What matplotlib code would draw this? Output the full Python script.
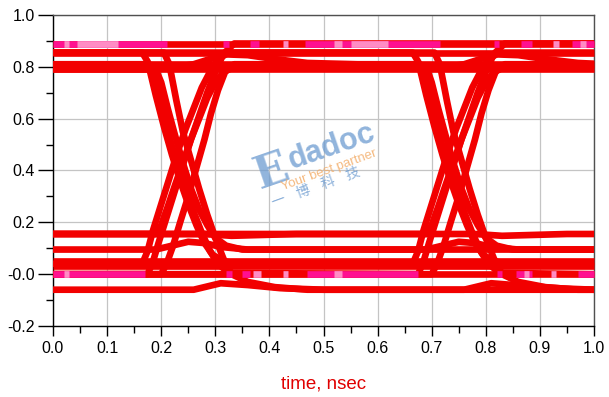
import matplotlib
matplotlib.use("Agg")
import matplotlib.pyplot as plt
from matplotlib.ticker import MultipleLocator

# ---- axis ticks / labels ----
x_ticks = [0.0, 0.1, 0.2, 0.3, 0.4, 0.5, 0.6, 0.7, 0.8, 0.9, 1.0]
x_labels = ["0.0", "0.1", "0.2", "0.3", "0.4", "0.5", "0.6", "0.7", "0.8", "0.9", "1.0"]
y_ticks = [-0.2, 0.0, 0.2, 0.4, 0.6, 0.8, 1.0]
y_labels = ["-0.2", "-0.0", "0.2", "0.4", "0.6", "0.8", "1.0"]
x_label = "time, nsec"

# ---- steady-level traces ----
flat_089_x, flat_089_y = [0.0, 1.0], [0.89, 0.89]
flat_0855_x, flat_0855_y = [0.0, 1.0], [0.855, 0.855]
flat_081_x, flat_081_y = [0.0, 1.0], [0.81, 0.81]
flat_079_x, flat_079_y = [0.0, 1.0], [0.79, 0.79]
bump_hi_x = [0.0, 0.23, 0.26, 0.29, 0.32, 0.36, 0.41, 0.47, 0.73, 0.76, 0.79, 0.82, 0.86, 0.91, 0.97, 1.0]
bump_hi_y = [0.80, 0.80, 0.81, 0.83, 0.848, 0.845, 0.83, 0.815, 0.80, 0.81, 0.83, 0.848, 0.845, 0.83, 0.815, 0.812]
flat_0155_x = [0.0, 0.28, 0.33, 0.45, 0.78, 0.83, 0.95, 1.0]
flat_0155_y = [0.155, 0.155, 0.148, 0.155, 0.155, 0.148, 0.155, 0.155]
hump_0095_x = [0.0, 0.19, 0.22, 0.25, 0.28, 0.31, 0.36, 0.69, 0.72, 0.75, 0.78, 0.81, 0.86, 1.0]
hump_0095_y = [0.095, 0.095, 0.11, 0.125, 0.12, 0.105, 0.095, 0.095, 0.11, 0.125, 0.12, 0.105, 0.095, 0.095]
flat_005_x, flat_005_y = [0.0, 1.0], [0.05, 0.05]
flat_003_x, flat_003_y = [0.0, 1.0], [0.03, 0.03]
flat_000_x, flat_000_y = [0.0, 1.0], [0.0, 0.0]
bump_lo_x = [0.0, 0.26, 0.29, 0.31, 0.36, 0.42, 0.5, 0.76, 0.79, 0.81, 0.87, 0.94, 1.0]
bump_lo_y = [-0.06, -0.06, -0.045, -0.035, -0.042, -0.054, -0.06, -0.06, -0.045, -0.035, -0.045, -0.055, -0.06]

# ---- switching traces ----
t1_x = [0.0, 0.165, 0.175, 0.19, 0.205, 0.22, 0.235, 0.25, 0.265, 0.28, 0.295, 0.315, 0.34,
        0.665, 0.675, 0.685, 0.7, 0.715, 0.73, 0.745, 0.76, 0.775, 0.79, 0.805, 0.825, 1.0]
t1_y = [0.855, 0.855, 0.82, 0.69, 0.57, 0.46, 0.36, 0.27, 0.19, 0.12, 0.075, 0.05, 0.04,
        0.04, 0.09, 0.17, 0.27, 0.37, 0.47, 0.56, 0.64, 0.72, 0.78, 0.83, 0.855, 0.855]
t2_x = [0.0, 0.178, 0.188, 0.2, 0.215, 0.23, 0.245, 0.26, 0.275, 0.29, 0.305, 0.325,
        0.675, 0.685, 0.695, 0.71, 0.725, 0.74, 0.755, 0.77, 0.785, 0.8, 0.815, 0.835, 1.0]
t2_y = [0.81, 0.81, 0.76, 0.65, 0.53, 0.42, 0.33, 0.24, 0.16, 0.09, 0.04, 0.005,
        0.0, 0.05, 0.12, 0.22, 0.32, 0.42, 0.52, 0.61, 0.70, 0.78, 0.85, 0.89, 0.89]
t3_x = [0.0, 0.19, 0.2, 0.212, 0.225, 0.24, 0.255, 0.27, 0.285, 0.3, 0.32, 0.35, 1.0]
t3_y = [0.79, 0.79, 0.74, 0.64, 0.54, 0.43, 0.33, 0.25, 0.19, 0.14, 0.11, 0.095, 0.095]
t4_x = [0.0, 0.205, 0.215, 0.228, 0.24, 0.255, 0.27, 0.285, 0.3, 0.315, 0.33, 0.36, 0.41, 0.47, 1.0]
t4_y = [0.855, 0.855, 0.81, 0.67, 0.55, 0.44, 0.33, 0.23, 0.14, 0.06, 0.0, -0.03, -0.05, -0.06, -0.06]
t5_x = [0.0, 0.165, 0.175, 0.185, 0.2, 0.215, 0.23, 0.245, 0.26, 0.275, 0.29, 0.305, 0.325,
        0.665, 0.675, 0.69, 0.705, 0.72, 0.735, 0.75, 0.765, 0.78, 0.795, 0.815, 0.84, 1.0]
t5_y = [0.04, 0.04, 0.09, 0.17, 0.27, 0.37, 0.47, 0.56, 0.64, 0.72, 0.78, 0.83, 0.855,
        0.855, 0.82, 0.69, 0.57, 0.46, 0.36, 0.27, 0.19, 0.12, 0.075, 0.05, 0.04, 0.04]
t6_x = [0.0, 0.175, 0.185, 0.195, 0.21, 0.225, 0.24, 0.255, 0.27, 0.285, 0.3, 0.315, 0.335, 1.0]
t6_y = [0.0, 0.0, 0.05, 0.12, 0.22, 0.32, 0.42, 0.52, 0.61, 0.70, 0.78, 0.85, 0.89, 0.89]
t7_x = [0.0, 0.19, 0.2, 0.212, 0.225, 0.24, 0.255, 0.27, 0.285, 0.3, 0.315, 0.335,
        0.69, 0.7, 0.712, 0.725, 0.74, 0.755, 0.77, 0.785, 0.8, 0.82, 0.85, 1.0]
t7_y = [0.155, 0.155, 0.19, 0.26, 0.34, 0.43, 0.52, 0.60, 0.68, 0.74, 0.78, 0.80,
        0.80, 0.74, 0.64, 0.54, 0.43, 0.33, 0.25, 0.19, 0.14, 0.11, 0.095, 0.095]
t8_x = [0.0, 0.2, 0.21, 0.222, 0.235, 0.25, 0.265, 0.28, 0.292, 0.305, 0.318, 0.335,
        0.678, 0.688, 0.7, 0.715, 0.73, 0.745, 0.76, 0.775, 0.79, 0.805, 0.825, 1.0]
t8_y = [0.0, 0.0, 0.04, 0.11, 0.2, 0.3, 0.41, 0.52, 0.62, 0.71, 0.78, 0.81,
        0.81, 0.76, 0.65, 0.53, 0.42, 0.33, 0.24, 0.16, 0.09, 0.04, 0.005, 0.0]
t9_x = [0.0, 0.7, 0.71, 0.722, 0.735, 0.75, 0.765, 0.78, 0.792, 0.805, 0.818, 0.835, 1.0]
t9_y = [0.0, 0.0, 0.04, 0.11, 0.2, 0.3, 0.41, 0.52, 0.62, 0.71, 0.78, 0.81, 0.81]
t10_x = [0.0, 0.705, 0.715, 0.728, 0.74, 0.755, 0.77, 0.785, 0.8, 0.815, 0.83, 0.86, 0.91, 0.97, 1.0]
t10_y = [0.855, 0.855, 0.81, 0.67, 0.55, 0.44, 0.33, 0.23, 0.14, 0.06, 0.0, -0.03, -0.05, -0.06, -0.06]
t11_x = [0.0, 0.69, 0.7, 0.712, 0.725, 0.74, 0.755, 0.77, 0.785, 0.8, 0.815, 0.835, 1.0]
t11_y = [0.155, 0.155, 0.19, 0.26, 0.34, 0.43, 0.52, 0.60, 0.68, 0.74, 0.78, 0.80, 0.80]

# ---- pink marker trace pieces (y level, x spans) ----
pink_top_level = 0.89
pink_top_spans = [(0.0, 0.21), (0.315, 0.325), (0.365, 0.38), (0.465, 0.715),
                  (0.815, 0.825), (0.865, 0.885), (0.96, 1.0)]
light_top_spans = [(0.02, 0.03), (0.045, 0.12), (0.425, 0.435), (0.52, 0.535),
                   (0.55, 0.62), (0.925, 0.935), (0.975, 0.985)]
pink_bot_level = 0.0
pink_bot_spans = [(0.0, 0.17), (0.32, 0.33), (0.35, 0.365), (0.47, 0.675),
                  (0.82, 0.83), (0.855, 0.885), (0.97, 1.0)]
light_bot_spans = [(0.02, 0.03), (0.37, 0.385), (0.425, 0.435), (0.52, 0.535),
                   (0.87, 0.88), (0.92, 0.93)]

RED = "#f20000"
PINK = "#ff1090"
LIGHT = "#ff8cc4"
LW = 4.8

plt.rcParams["font.family"] = ["Liberation Sans", "DejaVu Sans"]

fig = plt.figure(figsize=(6.09, 3.97), dpi=100)
ax = fig.add_axes([53 / 609, 1 - 326 / 397, 541 / 609, 311 / 397])

traces = [
    (flat_089_x, flat_089_y), (flat_0855_x, flat_0855_y), (flat_081_x, flat_081_y),
    (flat_079_x, flat_079_y), (bump_hi_x, bump_hi_y), (flat_0155_x, flat_0155_y),
    (hump_0095_x, hump_0095_y), (flat_005_x, flat_005_y), (flat_003_x, flat_003_y),
    (flat_000_x, flat_000_y), (bump_lo_x, bump_lo_y),
    (t1_x, t1_y), (t2_x, t2_y), (t3_x, t3_y), (t4_x, t4_y), (t5_x, t5_y), (t6_x, t6_y),
    (t7_x, t7_y), (t8_x, t8_y), (t9_x, t9_y), (t10_x, t10_y), (t11_x, t11_y),
]
for tx, ty in traces:
    ax.plot(tx, ty, color=RED, lw=LW, solid_capstyle="butt", solid_joinstyle="round",
            clip_on=False, zorder=3)

for lvl, spans, col in [(pink_top_level, pink_top_spans, PINK),
                        (pink_top_level, light_top_spans, LIGHT),
                        (pink_bot_level, pink_bot_spans, PINK),
                        (pink_bot_level, light_bot_spans, LIGHT)]:
    for a, b in spans:
        ax.plot([a, b], [lvl, lvl], color=col, lw=LW, solid_capstyle="butt",
                clip_on=False, zorder=4)

ax.set_xlim(0.0, 1.0)
ax.set_ylim(-0.2, 1.0)
ax.set_xticks(x_ticks)
ax.set_xticklabels(x_labels)
ax.set_yticks(y_ticks)
ax.set_yticklabels(y_labels)
ax.xaxis.set_minor_locator(MultipleLocator(0.05))
ax.yaxis.set_minor_locator(MultipleLocator(0.1))
ax.grid(True, which="major", color="#c4c4c4", lw=0.9, zorder=0)
ax.set_axisbelow(True)

ax.tick_params(axis="both", which="both", direction="out", colors="black",
               labelsize=11.5, width=1.0, top=False, right=False)
ax.tick_params(axis="y", which="major", length=11, pad=2)
ax.tick_params(axis="y", which="minor", length=5)
ax.tick_params(axis="x", which="major", length=7, pad=4)
ax.tick_params(axis="x", which="minor", length=5)

for side in ("left", "bottom"):
    ax.spines[side].set_color("black")
    ax.spines[side].set_linewidth(1.0)
for side in ("top", "right"):
    ax.spines[side].set_color("#505050")
    ax.spines[side].set_linewidth(1.0)

ax.set_xlabel(x_label, color="#e00000", fontsize=13.5)
ax.xaxis.set_label_coords(0.5, -0.185)
ax.xaxis.label.set_verticalalignment("center")

# watermark
WM_BLUE = "#6c9bd0"
ax.text(0.405, 0.495, "E", transform=ax.transAxes, fontsize=32, fontweight="bold",
        family="DejaVu Serif", color=WM_BLUE, alpha=0.75, rotation=19,
        ha="center", va="center", zorder=2)
ax.text(0.515, 0.575, "dadoc", transform=ax.transAxes, fontsize=22, fontweight="bold",
        color=WM_BLUE, alpha=0.75, rotation=19, ha="center", va="center", zorder=2)
ax.text(0.51, 0.50, "Your best partner", transform=ax.transAxes, fontsize=9.5,
        color="#f2a860", alpha=0.8, rotation=20, ha="center", va="center", zorder=2)
ax.text(0.486, 0.445, "一    博    科    技", transform=ax.transAxes, fontsize=10,
        family=["Noto Sans CJK SC", "DejaVu Sans"], color=WM_BLUE, alpha=0.8,
        rotation=20, ha="center", va="center", zorder=2)

fig.savefig("out.png", dpi=100)
